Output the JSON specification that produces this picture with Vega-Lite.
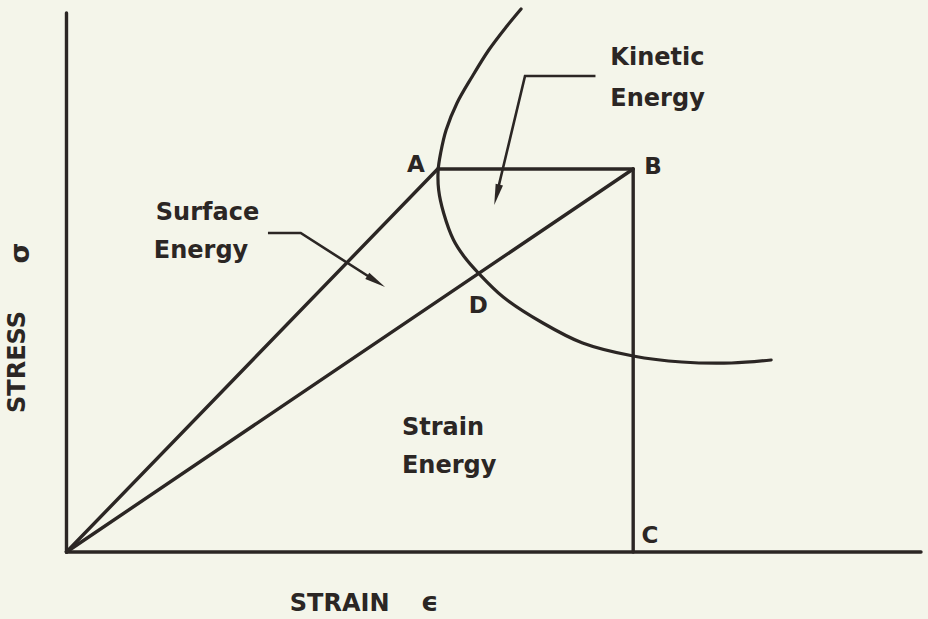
{
  "$schema": "https://vega.github.io/schema/vega-lite/v6.json",
  "width": 928,
  "height": 619,
  "autosize": {"type": "fit", "contains": "padding"},
  "padding": 0,
  "background": "#f4f5ea",
  "config": {"view": {"stroke": null}},
  "datasets": {
    "segs": [
      {"seg": "yaxis", "ord": 0, "x": 0, "y": 0},
      {"seg": "yaxis", "ord": 1, "x": 0, "y": 539},
      {"seg": "xaxis", "ord": 0, "x": 0, "y": 0},
      {"seg": "xaxis", "ord": 1, "x": 861, "y": 0},
      {"seg": "OA", "ord": 0, "x": 0, "y": 0},
      {"seg": "OA", "ord": 1, "x": 374, "y": 383},
      {"seg": "OB", "ord": 0, "x": 0, "y": 0},
      {"seg": "OB", "ord": 1, "x": 571, "y": 383},
      {"seg": "AB", "ord": 0, "x": 374, "y": 383},
      {"seg": "AB", "ord": 1, "x": 571, "y": 383},
      {"seg": "BC", "ord": 0, "x": 571, "y": 383},
      {"seg": "BC", "ord": 1, "x": 571, "y": 0}
    ],
    "curve": [
      {"ord": 0, "x": 458, "y": 543},
      {"ord": 1, "x": 443, "y": 525},
      {"ord": 2, "x": 425.5, "y": 502},
      {"ord": 3, "x": 408.5, "y": 475},
      {"ord": 4, "x": 393.5, "y": 449},
      {"ord": 5, "x": 382.5, "y": 422},
      {"ord": 6, "x": 377, "y": 399},
      {"ord": 7, "x": 374.5, "y": 382},
      {"ord": 8, "x": 375, "y": 362},
      {"ord": 9, "x": 380, "y": 339},
      {"ord": 10, "x": 390, "y": 312},
      {"ord": 11, "x": 401, "y": 295},
      {"ord": 12, "x": 415, "y": 279},
      {"ord": 13, "x": 440, "y": 255},
      {"ord": 14, "x": 480, "y": 229},
      {"ord": 15, "x": 520, "y": 209},
      {"ord": 16, "x": 571, "y": 196},
      {"ord": 17, "x": 620, "y": 190},
      {"ord": 18, "x": 670, "y": 189},
      {"ord": 19, "x": 710, "y": 192}
    ],
    "arrows": [
      {"seg": "kin", "ord": 0, "x": 533, "y": 476},
      {"seg": "kin", "ord": 1, "x": 462, "y": 476},
      {"seg": "kin", "ord": 2, "x": 435, "y": 364},
      {"seg": "sur", "ord": 0, "x": 203, "y": 319},
      {"seg": "sur", "ord": 1, "x": 236, "y": 319},
      {"seg": "sur", "ord": 2, "x": 310, "y": 272}
    ],
    "heads": [
      {"x": 431, "y": 347, "ang": 194},
      {"x": 321, "y": 265, "ang": 122}
    ],
    "labels": [
      {"t": "Surface", "x": 90, "y": 332},
      {"t": "Energy", "x": 88, "y": 294},
      {"t": "Kinetic", "x": 548, "y": 487},
      {"t": "Energy", "x": 548, "y": 446},
      {"t": "Strain", "x": 338, "y": 117},
      {"t": "Energy", "x": 338, "y": 79},
      {"t": "STRAIN", "x": 225, "y": -59}
    ],
    "letters": [
      {"t": "A", "x": 352, "y": 387},
      {"t": "B", "x": 591, "y": 385},
      {"t": "C", "x": 588, "y": 16},
      {"t": "D", "x": 415, "y": 246}
    ]
  },
  "layer": [
    {
      "data": {"name": "segs"},
      "mark": {"type": "line", "color": "#2b2624", "strokeWidth": 3.4, "strokeCap": "round", "strokeJoin": "miter"},
      "encoding": {
        "x": {"field": "x", "type": "quantitative", "scale": {"domain": [-67, 861], "nice": false, "zero": false}, "axis": null},
        "y": {"field": "y", "type": "quantitative", "scale": {"domain": [-67, 552], "nice": false, "zero": false}, "axis": null},
        "detail": {"field": "seg"},
        "order": {"field": "ord"}
      }
    },
    {
      "data": {"name": "curve"},
      "mark": {"type": "line", "color": "#2b2624", "strokeWidth": 3.2, "strokeCap": "round", "interpolate": "catmull-rom"},
      "encoding": {
        "x": {"field": "x", "type": "quantitative"},
        "y": {"field": "y", "type": "quantitative"},
        "order": {"field": "ord"}
      }
    },
    {
      "data": {"name": "arrows"},
      "mark": {"type": "line", "color": "#2b2624", "strokeWidth": 2.6, "strokeCap": "butt"},
      "encoding": {
        "x": {"field": "x", "type": "quantitative"},
        "y": {"field": "y", "type": "quantitative"},
        "detail": {"field": "seg"},
        "order": {"field": "ord"}
      }
    },
    {
      "data": {"name": "heads"},
      "mark": {"type": "point", "shape": "M0,0L0.36,2L-0.36,2Z", "filled": true, "color": "#2b2624", "opacity": 1, "size": 440},
      "encoding": {
        "x": {"field": "x", "type": "quantitative"},
        "y": {"field": "y", "type": "quantitative"},
        "angle": {"field": "ang", "type": "quantitative", "scale": null}
      }
    },
    {
      "data": {"name": "labels"},
      "mark": {"type": "text", "font": "DejaVu Sans", "fontWeight": "bold", "fontSize": 24, "align": "left", "baseline": "alphabetic", "color": "#2b2624"},
      "encoding": {
        "x": {"field": "x", "type": "quantitative"},
        "y": {"field": "y", "type": "quantitative"},
        "text": {"field": "t"}
      }
    },
    {
      "data": {"name": "letters"},
      "mark": {"type": "text", "font": "DejaVu Sans", "fontWeight": "bold", "fontSize": 23, "align": "center", "baseline": "middle", "color": "#2b2624"},
      "encoding": {
        "x": {"field": "x", "type": "quantitative"},
        "y": {"field": "y", "type": "quantitative"},
        "text": {"field": "t"}
      }
    },
    {
      "data": {"values": [{"t": "ϵ", "x": 366, "y": -59}]},
      "mark": {"type": "text", "font": "DejaVu Sans", "fontWeight": "bold", "fontSize": 27, "align": "center", "baseline": "alphabetic", "color": "#2b2624"},
      "encoding": {
        "x": {"field": "x", "type": "quantitative"},
        "y": {"field": "y", "type": "quantitative"},
        "text": {"field": "t"}
      }
    },
    {
      "data": {"values": [{"t": "STRESS", "x": -49, "y": 139}]},
      "mark": {"type": "text", "font": "DejaVu Sans", "fontWeight": "bold", "fontSize": 24, "align": "left", "baseline": "middle", "angle": 270, "color": "#2b2624"},
      "encoding": {
        "x": {"field": "x", "type": "quantitative"},
        "y": {"field": "y", "type": "quantitative"},
        "text": {"field": "t"}
      }
    },
    {
      "data": {"values": [{"t": "σ", "x": -46, "y": 299}]},
      "mark": {"type": "text", "font": "DejaVu Sans", "fontWeight": "bold", "fontSize": 27, "align": "center", "baseline": "middle", "angle": 270, "color": "#2b2624"},
      "encoding": {
        "x": {"field": "x", "type": "quantitative"},
        "y": {"field": "y", "type": "quantitative"},
        "text": {"field": "t"}
      }
    }
  ]
}
